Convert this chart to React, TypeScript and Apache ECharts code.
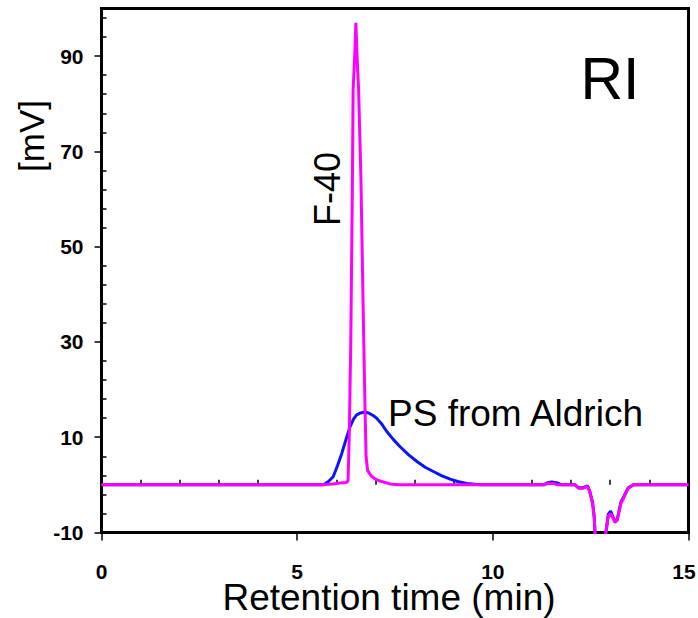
import React, { useEffect, useRef } from "react";
import * as echarts from "echarts";

// Retention time (min) and detector signal (mV)
const psTime = [0, 5.6, 5.67, 5.8, 5.92, 6.03, 6.14, 6.25, 6.35, 6.44, 6.52, 6.62, 6.73, 6.85, 6.95, 7.03, 7.15, 7.29, 7.45, 7.63, 7.85, 8.06, 8.27, 8.48, 8.7, 8.91, 9.1, 9.33, 9.67, 11.3, 11.38, 11.5, 11.65, 11.75, 12.1, 12.19, 12.31, 12.42, 12.48, 12.55, 12.59, 12.61, 12.68, 12.82, 12.89, 12.95, 13.01, 13.07, 13.12, 13.18, 13.27, 13.35, 13.46, 13.59, 15];
const psSignal = [0, 0, 0, 0.7, 1.7, 4.0, 6.6, 9.6, 12.2, 13.8, 14.7, 15.1, 15.3, 15.0, 14.5, 14.0, 12.9, 11.2, 9.6, 8.0, 6.3, 4.9, 3.7, 2.8, 1.9, 1.2, 0.7, 0.3, 0, 0, 0.4, 0.6, 0.4, 0, 0, -0.6, -0.6, -0.2, -1.4, -3.8, -6.6, -10, -15, -15, -10, -6.2, -5.5, -6.7, -7.6, -7.2, -3.7, -2.4, -0.6, 0, 0];

const f40Time = [0, 5.65, 5.9, 6.1, 6.25, 6.3, 6.33, 6.37, 6.41, 6.43, 6.47, 6.5, 6.53, 6.57, 6.63, 6.68, 6.72, 6.76, 6.8, 6.9, 7.0, 7.12, 7.37, 7.6, 11.3, 11.4, 11.55, 11.65, 12.1, 12.19, 12.31, 12.42, 12.48, 12.55, 12.59, 12.61, 12.68, 12.82, 12.89, 12.95, 13.01, 13.07, 13.12, 13.18, 13.27, 13.35, 13.46, 13.59, 15];
const f40Signal = [0, 0, 0.2, 0.4, 0.5, 0.8, 10, 30, 62, 83, 90, 97, 90, 83, 64, 40, 22, 6, 3, 1.8, 1.2, 0.8, 0.2, 0, 0, 0.3, 0.3, 0, 0, -0.7, -0.7, -0.3, -1.5, -4, -6.8, -10, -15, -15, -10, -6.5, -6, -7, -7.9, -7.4, -4, -2.6, -0.7, 0, 0];

const yTickValues = [-10, 10, 30, 50, 70, 90];
const xTickValues = [0, 5, 10, 15];

const FONT = "'Liberation Sans', Arial, Helvetica, sans-serif";

export default function App() {
  const ref = useRef<HTMLDivElement>(null);

  useEffect(() => {
    if (!ref.current) return;
    const chart = echarts.init(ref.current, null, { renderer: "svg" });
    const zip = (xs: number[], ys: number[]) => xs.map((x, i) => [x, ys[i]]);
    const xMax = xTickValues[xTickValues.length - 1];

    chart.setOption({
      animation: false,
      backgroundColor: "#ffffff",
      textStyle: { fontFamily: FONT },
      grid: {
        left: 101.5,
        right: 9.5,
        top: 8.5,
        bottom: 85.5,
        containLabel: false,
        outerBoundsMode: "none",
        show: true,
        borderColor: "#000",
        borderWidth: 3,
        backgroundColor: "transparent",
      },
      xAxis: [
        {
          type: "value",
          min: 0,
          max: 15,
          interval: 5,
          axisLine: { show: true, onZero: false, lineStyle: { color: "#000", width: 3 } },
          axisTick: { show: true, customValues: xTickValues, length: 8, lineStyle: { color: "#000", width: 1.5 } },
          axisLabel: {
            customValues: xTickValues,
            margin: 31,
            fontSize: 21,
            lineHeight: 16,
            fontWeight: "bold",
            color: "#000",
            fontFamily: FONT,
            formatter: (v: number) => (v === xMax ? "{m|" + v + "}" : String(v)),
            rich: {
              m: { fontSize: 21, lineHeight: 16, fontWeight: "bold", color: "#000", fontFamily: FONT, padding: [0, 9, 0, 0] },
            },
          },
          splitLine: { show: false },
        },
        {
          type: "value",
          min: 0,
          max: 15,
          interval: 5,
          position: "bottom",
          axisLine: { show: false },
          axisLabel: { show: false },
          axisTick: { show: false, inside: true },
          minorTick: { show: true, splitNumber: 5, length: 5, lineStyle: { color: "#000", width: 1.5 } },
          splitLine: { show: false },
        },
      ],
      yAxis: [
        {
          type: "value",
          min: -10,
          max: 100,
          interval: 10,
          axisLine: { show: true, onZero: false, lineStyle: { color: "#000", width: 3 } },
          axisTick: { show: true, customValues: yTickValues, length: 7, lineStyle: { color: "#000", width: 1.5 } },
          axisLabel: {
            customValues: yTickValues,
            margin: 18,
            fontSize: 21,
            fontWeight: "bold",
            color: "#000",
            fontFamily: FONT,
          },
          splitLine: { show: false },
        },
        {
          type: "value",
          min: 0,
          max: 110,
          interval: 20,
          position: "left",
          axisLine: { show: false },
          axisLabel: { show: false },
          axisTick: { show: false, inside: true },
          minorTick: { show: true, splitNumber: 5, length: 5, lineStyle: { color: "#000", width: 1.5 } },
          splitLine: { show: false },
        },
      ],
      series: [
        {
          name: "PS from Aldrich",
          type: "line",
          xAxisIndex: 0,
          yAxisIndex: 0,
          data: zip(psTime, psSignal),
          showSymbol: false,
          symbol: "none",
          clip: true,
          lineStyle: { color: "#0a14ff", width: 3 },
          z: 2,
        },
        {
          name: "F-40",
          type: "line",
          xAxisIndex: 0,
          yAxisIndex: 0,
          data: zip(f40Time, f40Signal),
          showSymbol: false,
          symbol: "none",
          clip: true,
          lineStyle: { color: "#ff00ff", width: 3 },
          z: 3,
        },
      ],
      graphic: [
        {
          type: "text",
          x: 389,
          y: 597,
          style: { text: "Retention time (min)", fontSize: 37, lineHeight: 30, fontFamily: FONT, fill: "#000", textAlign: "center", textVerticalAlign: "middle" },
        },
        {
          type: "text",
          x: 31,
          y: 136,
          rotation: Math.PI / 2,
          style: { text: "[mV]", fontSize: 35, fontFamily: FONT, fill: "#000", textAlign: "center", textVerticalAlign: "middle" },
        },
        {
          type: "text",
          x: 610,
          y: 79,
          style: { text: "RI", fontSize: 59, fontFamily: FONT, fill: "#000", textAlign: "center", textVerticalAlign: "middle" },
        },
        {
          type: "text",
          x: 327,
          y: 189,
          rotation: Math.PI / 2,
          style: { text: "F-40", fontSize: 36, fontFamily: FONT, fill: "#000", textAlign: "center", textVerticalAlign: "middle" },
        },
        {
          type: "text",
          x: 388,
          y: 413,
          style: { text: "PS from Aldrich", fontSize: 37, fontFamily: FONT, fill: "#000", textAlign: "left", textVerticalAlign: "middle" },
        },
      ],
    });

    return () => chart.dispose();
  }, []);

  return (
    <div
      ref={ref}
      style={{ position: "fixed", left: 0, top: 0, width: 698, height: 618, background: "#fff" }}
    />
  );
}
